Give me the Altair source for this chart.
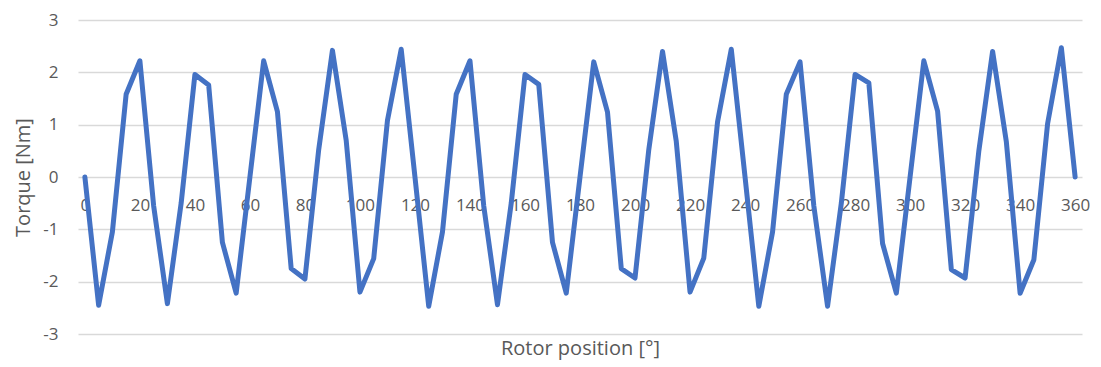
import altair as alt
import pandas as pd

positions = list(range(0, 361, 5))
torque = [
    0.0, -2.45, -1.05, 1.58, 2.22, -0.55, -2.42, -0.5, 1.96, 1.76,
    -1.25, -2.22, 0.0, 2.22, 1.25, -1.75, -1.95, 0.52, 2.42, 0.7,
    -2.2, -1.56, 1.08, 2.44, 0.0, -2.47, -1.05, 1.58, 2.22, -0.55,
    -2.44, -0.5, 1.96, 1.77, -1.25, -2.22, 0.0, 2.2, 1.24, -1.75,
    -1.93, 0.52, 2.4, 0.68, -2.2, -1.55, 1.05, 2.44, 0.0, -2.47,
    -1.05, 1.58, 2.2, -0.55, -2.47, -0.5, 1.96, 1.8, -1.27, -2.22,
    0.0, 2.22, 1.26, -1.77, -1.93, 0.5, 2.4, 0.67, -2.22, -1.58,
    1.02, 2.47, 0.0,
]
x_ticks = list(range(0, 361, 20))
y_ticks = [-3, -2, -1, 0, 1, 2, 3]

df = pd.DataFrame({"pos": positions, "torque": torque})

FONT = "Open Sans"
GREY = "#595959"

chart = (
    alt.Chart(df)
    .mark_line(color="#4472C4", strokeWidth=5, strokeJoin="round", strokeCap="round")
    .encode(
        x=alt.X(
            "pos:Q",
            scale=alt.Scale(domain=[-2.5, 362.5], nice=False, zero=False),
            axis=alt.Axis(
                values=x_ticks,
                grid=False,
                domain=False,
                ticks=False,
                offset=-157,
                labelPadding=20,
                labelFont=FONT,
                labelFontSize=17,
                labelColor=GREY,
                labelExpr="'' + datum.value",
                title="Rotor position [°]",
                titleFont=FONT,
                titleFontSize=20,
                titleFontWeight="normal",
                titleColor=GREY,
                titleBaseline="alphabetic",
                titleY=177,
            ),
        ),
        y=alt.Y(
            "torque:Q",
            scale=alt.Scale(domain=[-3, 3], nice=False),
            axis=alt.Axis(
                values=y_ticks,
                grid=True,
                gridColor="#d9d9d9",
                gridWidth=1.3,
                domain=False,
                ticks=False,
                labelPadding=20,
                labelFont=FONT,
                labelFontSize=17,
                labelColor=GREY,
                labelExpr="'' + datum.value",
                title="Torque [Nm]",
                titleFont=FONT,
                titleFontSize=20,
                titleFontWeight="normal",
                titleColor=GREY,
                titleBaseline="alphabetic",
                titleX=-49,
            ),
        ),
    )
    .properties(
        width=1004,
        height=314,
        autosize=alt.AutoSizeParams(type="none"),
        padding={"left": 70, "top": 12, "right": 10, "bottom": 26},
    )
    .configure_view(stroke=None)
)

chart.save("out.html", embed_options={"renderer": "svg", "actions": False})
